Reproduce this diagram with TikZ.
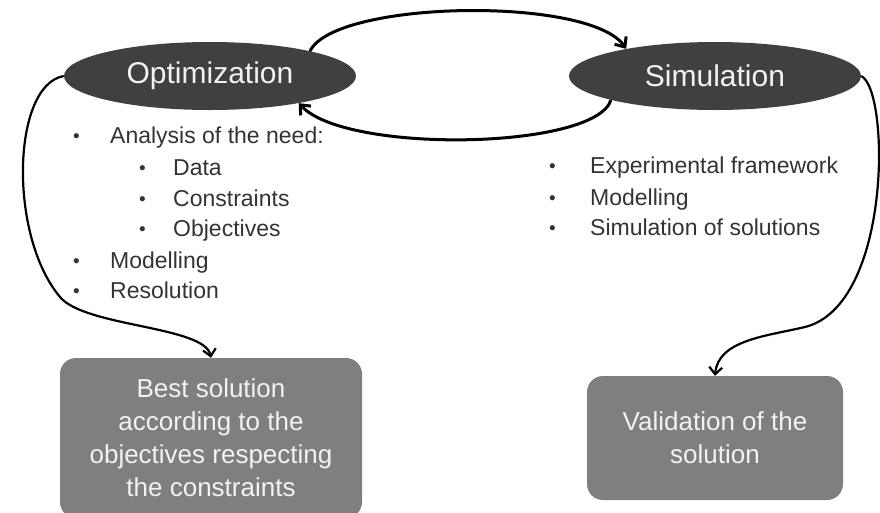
\documentclass[tikz,border=0pt]{standalone}
\usepackage{fontspec}
\setmainfont{Liberation Sans}
\usetikzlibrary{shapes.geometric,arrows.meta}
\definecolor{ellfill}{HTML}{404040}
\definecolor{boxfill}{HTML}{7F7F7F}
\definecolor{lighttext}{HTML}{F2F2F2}
\definecolor{bodytext}{HTML}{333333}
\newcommand{\blt}{\raisebox{0.5pt}{\fontsize{19pt}{19pt}\selectfont •}}
\tikzset{
  ellnode/.style={ellipse, fill=ellfill, draw=none, inner sep=0pt,
    minimum width=292pt, minimum height=68pt, text=lighttext,
    font=\fontsize{30pt}{34pt}\selectfont},
  resbox/.style={rectangle, rounded corners=16pt, fill=boxfill, draw=none,
    text=lighttext, align=center, inner sep=0pt,
    font=\fontsize{26pt}{33pt}\selectfont},
  item/.style={anchor=base west, inner sep=0pt, text=bodytext,
    font=\fontsize{23pt}{31pt}\selectfont},
  loop/.style={line width=3pt, -{Straight Barb[length=8pt,width=14pt]}},
  side/.style={line width=2.2pt, -{Straight Barb[length=7pt,width=13pt]}},
}
\begin{document}
\begin{tikzpicture}[x=1pt,y=-1pt]
\useasboundingbox (0,0) rectangle (880,512);

% main nodes
\node[ellnode] (opt) at (210,76) {Optimization};
\node[ellnode] (sim) at (715,76) {Simulation};
\node[resbox, minimum width=302pt, minimum height=160pt] (best) at (211,438)
  {Best solution\\according to the\\objectives respecting\\the constraints};
\node[resbox, minimum width=256pt, minimum height=124pt] (valid) at (715,438)
  {Validation of the\\solution};

% optimization list
\node[item] (o1) at (73,143) {\makebox[37pt][l]{\blt}Analysis of the need:};
\node[item] (o2) at (139,175) {\makebox[34pt][l]{\blt}Data};
\node[item] (o3) at (139,206) {\makebox[34pt][l]{\blt}Constraints};
\node[item] (o4) at (139,236) {\makebox[34pt][l]{\blt}Objectives};
\node[item] (o5) at (73,268) {\makebox[37pt][l]{\blt}Modelling};
\node[item] (o6) at (73,298) {\makebox[37pt][l]{\blt}Resolution};

% simulation list
\node[item] (s1) at (549,173) {\makebox[41pt][l]{\blt}Experimental framework};
\node[item] (s2) at (549,205) {\makebox[41pt][l]{\blt}Modelling};
\node[item] (s3) at (549,235) {\makebox[41pt][l]{\blt}Simulation of solutions};

% connectors
\draw[loop] (opt.14) .. controls (335,0) and (590,-4) .. (sim.163);
\draw[loop] (sim.193) .. controls (595,150) and (345,154) .. (opt.343);
\draw[side] (opt.west) .. controls (12,85) and (8,235) .. (60,297)
  .. controls (85,327) and (205,326) .. (best.north);
\draw[side] (sim.east) .. controls (890,90) and (892,305) .. (805,327)
  .. controls (767,336) and (718,340) .. (valid.north);
\end{tikzpicture}
\end{document}
